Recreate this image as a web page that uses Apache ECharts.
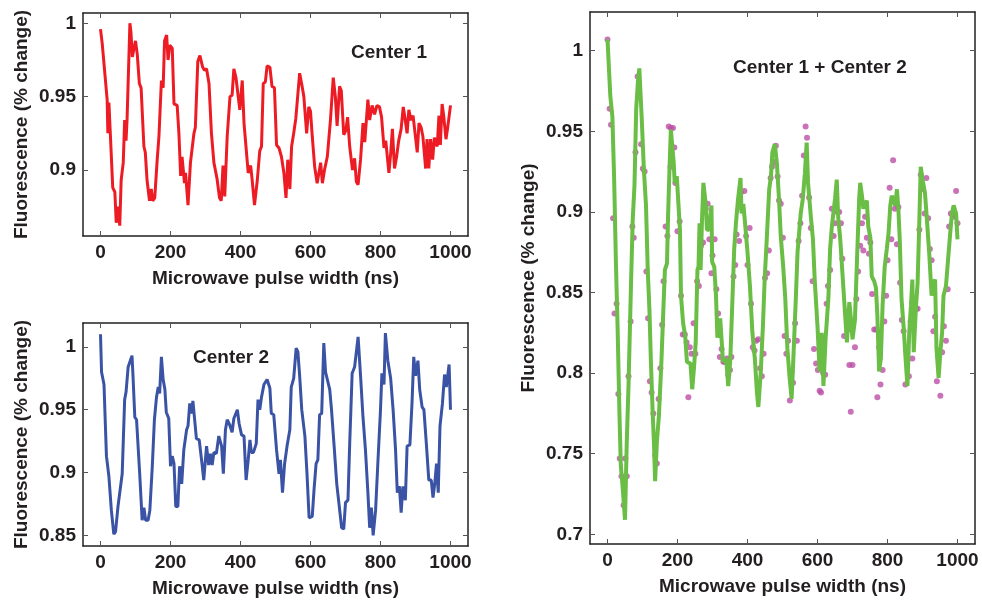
<!DOCTYPE html>
<html>
<head>
    <meta charset="utf-8">
    <script src="https://cdn.jsdelivr.net/npm/echarts@6/dist/echarts.min.js"></script>
    <style>
        body { margin: 0; background: #fff; }
    </style>
</head>
<body>
    <div id="main" style="width: 982px;height:601px;"></div>
    <script>
        // Center 1 (red)
        var c1Time = [0, 5, 9, 19, 21, 24, 28, 35, 41, 45, 50, 55, 59, 65, 69, 73, 76, 84, 87, 91, 95, 100, 105, 111, 116, 124, 128, 133, 140, 145, 149, 155, 162, 167, 171, 174, 179, 183, 189, 193, 198, 205, 210, 219, 224, 229, 233, 240, 243, 250, 257, 267, 271, 278, 284, 292, 297, 303, 310, 317, 324, 333, 340, 345, 350, 355, 362, 370, 376, 381, 387, 390, 398, 405, 410, 416, 422, 429, 433, 440, 448, 455, 460, 465, 471, 476, 484, 490, 497, 503, 510, 517, 524, 530, 535, 541, 546, 552, 558, 562, 569, 576, 581, 589, 595, 600, 605, 612, 619, 629, 634, 640, 648, 657, 665, 671, 676, 683, 688, 695, 701, 706, 712, 720, 726, 731, 736, 743, 750, 755, 764, 769, 776, 783, 790, 797, 803, 810, 815, 824, 829, 834, 840, 846, 852, 859, 865, 869, 876, 881, 887, 893, 898, 905, 910, 916, 921, 929, 933, 938, 943, 949, 954, 962, 967, 971, 976, 981, 987, 992, 996, 1000];
        var c1Val = [0.996, 0.986, 0.985, 0.948, 0.925, 0.946, 0.925, 0.888, 0.885, 0.864, 0.875, 0.862, 0.893, 0.905, 0.934, 0.920, 0.935, 1.000, 0.994, 0.977, 0.982, 0.988, 0.979, 0.959, 0.956, 0.916, 0.912, 0.893, 0.879, 0.887, 0.879, 0.881, 0.907, 0.923, 0.924, 0.961, 0.956, 0.988, 0.992, 0.975, 0.985, 0.983, 0.945, 0.944, 0.925, 0.896, 0.909, 0.891, 0.898, 0.876, 0.905, 0.925, 0.929, 0.974, 0.978, 0.970, 0.968, 0.969, 0.959, 0.925, 0.905, 0.894, 0.881, 0.879, 0.903, 0.882, 0.923, 0.950, 0.951, 0.969, 0.963, 0.963, 0.941, 0.961, 0.932, 0.915, 0.898, 0.903, 0.894, 0.876, 0.893, 0.913, 0.916, 0.959, 0.960, 0.971, 0.970, 0.957, 0.956, 0.917, 0.915, 0.909, 0.898, 0.881, 0.907, 0.887, 0.916, 0.925, 0.935, 0.936, 0.966, 0.957, 0.950, 0.925, 0.943, 0.940, 0.923, 0.902, 0.891, 0.905, 0.891, 0.900, 0.909, 0.934, 0.963, 0.950, 0.930, 0.957, 0.954, 0.924, 0.927, 0.936, 0.916, 0.900, 0.908, 0.892, 0.890, 0.907, 0.932, 0.919, 0.948, 0.934, 0.944, 0.938, 0.944, 0.943, 0.936, 0.915, 0.920, 0.898, 0.911, 0.928, 0.901, 0.909, 0.920, 0.928, 0.943, 0.937, 0.925, 0.941, 0.934, 0.937, 0.937, 0.912, 0.932, 0.929, 0.923, 0.901, 0.921, 0.901, 0.921, 0.907, 0.922, 0.916, 0.937, 0.917, 0.945, 0.936, 0.921, 0.929, 0.928, 0.944];

        // Center 2 (blue)
        var c2Time = [0, 3, 10, 17, 24, 31, 38, 43, 50, 55, 62, 69, 73, 79, 84, 90, 93, 98, 103, 107, 112, 119, 124, 129, 136, 141, 148, 154, 160, 165, 169, 174, 179, 184, 188, 195, 200, 205, 210, 215, 221, 226, 232, 238, 246, 250, 255, 260, 264, 269, 274, 282, 290, 295, 303, 309, 314, 319, 324, 331, 338, 346, 351, 357, 362, 369, 376, 381, 386, 391, 396, 403, 410, 416, 422, 427, 431, 437, 445, 450, 455, 460, 467, 476, 484, 488, 495, 503, 510, 514, 520, 526, 533, 541, 545, 552, 559, 564, 569, 575, 584, 590, 596, 605, 610, 616, 621, 626, 632, 638, 643, 648, 655, 660, 667, 675, 681, 689, 695, 700, 707, 712, 719, 726, 731, 736, 743, 750, 757, 764, 769, 774, 779, 786, 792, 800, 804, 810, 814, 821, 829, 836, 843, 848, 854, 859, 864, 871, 876, 884, 890, 895, 900, 907, 912, 919, 924, 931, 938, 945, 950, 955, 960, 965, 970, 977, 983, 988, 996, 998, 1000];
        var c2Val = [1.010, 0.980, 0.970, 0.913, 0.897, 0.870, 0.851, 0.853, 0.873, 0.874, 0.899, 0.958, 0.964, 0.984, 0.984, 0.993, 0.976, 0.944, 0.942, 0.943, 0.899, 0.862, 0.872, 0.862, 0.862, 0.870, 0.905, 0.942, 0.960, 0.968, 0.963, 0.992, 0.974, 0.966, 0.948, 0.943, 0.905, 0.913, 0.907, 0.873, 0.873, 0.905, 0.891, 0.918, 0.934, 0.937, 0.955, 0.947, 0.957, 0.956, 0.927, 0.926, 0.907, 0.894, 0.921, 0.906, 0.915, 0.906, 0.916, 0.915, 0.929, 0.921, 0.899, 0.934, 0.942, 0.938, 0.932, 0.943, 0.944, 0.950, 0.939, 0.930, 0.929, 0.894, 0.910, 0.926, 0.916, 0.916, 0.923, 0.958, 0.950, 0.960, 0.970, 0.974, 0.967, 0.947, 0.946, 0.918, 0.899, 0.910, 0.884, 0.907, 0.921, 0.934, 0.968, 0.975, 0.999, 0.996, 0.977, 0.950, 0.929, 0.899, 0.864, 0.865, 0.886, 0.907, 0.910, 0.946, 0.947, 1.003, 0.980, 0.981, 0.966, 0.950, 0.923, 0.891, 0.876, 0.856, 0.855, 0.876, 0.878, 0.923, 0.979, 0.984, 0.984, 1.008, 0.977, 0.944, 0.918, 0.884, 0.856, 0.872, 0.850, 0.870, 0.905, 0.950, 0.979, 0.970, 1.011, 0.989, 0.975, 0.950, 0.918, 0.884, 0.889, 0.868, 0.889, 0.878, 0.921, 0.922, 0.955, 0.992, 0.977, 0.989, 0.966, 0.952, 0.950, 0.923, 0.894, 0.894, 0.880, 0.891, 0.907, 0.884, 0.937, 0.955, 0.978, 0.968, 0.986, 0.968, 0.950];

        // Center 1 + Center 2 (green line)
        var sumTime = [0, 8, 14, 19, 24, 29, 34, 38, 43, 50, 55, 60, 67, 72, 77, 82, 87, 91, 94, 98, 104, 110, 115, 120, 124, 129, 133, 136, 141, 147, 150, 154, 159, 164, 170, 173, 177, 181, 186, 189, 192, 198, 203, 207, 210, 216, 222, 227, 231, 237, 242, 247, 252, 257, 260, 263, 266, 270, 274, 277, 281, 284, 290, 297, 299, 305, 310, 314, 317, 322, 330, 339, 345, 351, 357, 362, 367, 373, 380, 383, 388, 393, 400, 407, 414, 421, 427, 431, 438, 444, 449, 455, 462, 467, 471, 478, 484, 490, 495, 502, 508, 514, 520, 526, 531, 538, 543, 549, 552, 558, 564, 569, 573, 581, 587, 592, 600, 606, 612, 617, 623, 631, 636, 641, 645, 650, 655, 659, 665, 670, 676, 684, 691, 695, 700, 707, 713, 719, 722, 727, 731, 736, 741, 745, 751, 755, 762, 767, 771, 776, 781, 786, 792, 798, 803, 808, 812, 817, 822, 827, 831, 835, 840, 846, 851, 857, 862, 867, 871, 875, 881, 886, 890, 895, 900, 907, 912, 919, 926, 931, 936, 940, 946, 951, 956, 960, 967, 974, 980, 984, 989, 996, 1000];
        var sumVal = [1.007, 0.972, 0.959, 0.920, 0.869, 0.827, 0.776, 0.743, 0.730, 0.709, 0.757, 0.792, 0.854, 0.895, 0.916, 0.964, 0.981, 0.989, 0.975, 0.957, 0.926, 0.904, 0.864, 0.838, 0.807, 0.776, 0.755, 0.733, 0.757, 0.774, 0.775, 0.807, 0.836, 0.864, 0.868, 0.897, 0.926, 0.951, 0.952, 0.931, 0.918, 0.922, 0.922, 0.889, 0.848, 0.831, 0.823, 0.807, 0.806, 0.806, 0.790, 0.803, 0.819, 0.864, 0.866, 0.893, 0.864, 0.895, 0.918, 0.917, 0.904, 0.889, 0.889, 0.904, 0.869, 0.866, 0.848, 0.822, 0.821, 0.834, 0.807, 0.809, 0.792, 0.809, 0.846, 0.877, 0.893, 0.908, 0.921, 0.899, 0.905, 0.893, 0.875, 0.854, 0.825, 0.809, 0.788, 0.779, 0.801, 0.829, 0.858, 0.883, 0.914, 0.922, 0.937, 0.942, 0.930, 0.908, 0.885, 0.866, 0.846, 0.815, 0.798, 0.784, 0.809, 0.846, 0.875, 0.891, 0.899, 0.908, 0.924, 0.943, 0.918, 0.897, 0.883, 0.858, 0.829, 0.801, 0.825, 0.792, 0.821, 0.846, 0.877, 0.891, 0.890, 0.908, 0.920, 0.897, 0.883, 0.866, 0.846, 0.819, 0.844, 0.835, 0.821, 0.833, 0.871, 0.908, 0.918, 0.910, 0.902, 0.905, 0.907, 0.891, 0.884, 0.860, 0.857, 0.853, 0.836, 0.801, 0.809, 0.842, 0.866, 0.877, 0.887, 0.904, 0.910, 0.907, 0.904, 0.914, 0.902, 0.883, 0.846, 0.829, 0.811, 0.792, 0.825, 0.842, 0.858, 0.813, 0.840, 0.856, 0.887, 0.928, 0.920, 0.912, 0.897, 0.875, 0.848, 0.856, 0.858, 0.815, 0.797, 0.813, 0.825, 0.848, 0.854, 0.873, 0.889, 0.899, 0.904, 0.899, 0.883];

        // measured points (magenta dots)
        var dotTime = [0, 6, 10, 16, 20, 26, 31, 35, 40, 46, 51, 55, 60, 66, 71, 75, 80, 86, 90, 96, 101, 106, 111, 116, 121, 126, 131, 136, 141, 146, 151, 156, 160, 166, 171, 175, 180, 181, 187, 191, 194, 200, 206, 210, 215, 221, 226, 231, 235, 240, 246, 251, 256, 261, 267, 273, 281, 286, 291, 297, 300, 306, 311, 316, 321, 326, 331, 335, 341, 345, 350, 354, 360, 365, 369, 376, 381, 385, 391, 396, 400, 406, 410, 415, 420, 425, 431, 436, 441, 446, 450, 456, 461, 466, 470, 476, 481, 486, 490, 495, 501, 506, 511, 516, 521, 526, 530, 536, 541, 546, 551, 556, 561, 566, 570, 576, 581, 586, 590, 596, 601, 606, 610, 616, 622, 626, 630, 636, 641, 646, 650, 657, 662, 667, 671, 676, 681, 686, 691, 695, 700, 707, 711, 716, 722, 727, 731, 736, 741, 747, 751, 756, 762, 767, 771, 776, 780, 786, 791, 796, 800, 806, 811, 816, 821, 827, 831, 836, 841, 846, 851, 856, 861, 866, 871, 876, 881, 886, 891, 895, 900, 906, 911, 916, 921, 926, 931, 936, 941, 946, 951, 956, 961, 967, 972, 976, 981, 986, 991, 996, 1000];
        var dotVal = [1.007, 0.964, 0.954, 0.896, 0.837, 0.843, 0.787, 0.747, 0.736, 0.718, 0.747, 0.736, 0.798, 0.832, 0.891, 0.884, 0.937, 0.984, 0.973, 0.942, 0.927, 0.925, 0.863, 0.834, 0.795, 0.788, 0.775, 0.749, 0.744, 0.784, 0.803, 0.830, 0.857, 0.891, 0.885, 0.953, 0.928, 0.952, 0.952, 0.940, 0.918, 0.888, 0.894, 0.848, 0.824, 0.824, 0.819, 0.785, 0.816, 0.812, 0.831, 0.812, 0.857, 0.854, 0.879, 0.881, 0.902, 0.905, 0.883, 0.862, 0.873, 0.883, 0.852, 0.837, 0.810, 0.815, 0.807, 0.807, 0.809, 0.799, 0.802, 0.810, 0.860, 0.867, 0.886, 0.882, 0.912, 0.902, 0.913, 0.885, 0.867, 0.890, 0.843, 0.816, 0.814, 0.820, 0.821, 0.803, 0.798, 0.812, 0.859, 0.862, 0.876, 0.921, 0.928, 0.931, 0.941, 0.922, 0.907, 0.905, 0.884, 0.823, 0.812, 0.820, 0.783, 0.801, 0.794, 0.831, 0.820, 0.882, 0.893, 0.910, 0.935, 0.953, 0.946, 0.909, 0.890, 0.857, 0.815, 0.806, 0.802, 0.789, 0.788, 0.800, 0.799, 0.843, 0.854, 0.864, 0.902, 0.885, 0.893, 0.900, 0.900, 0.893, 0.871, 0.823, 0.838, 0.827, 0.805, 0.776, 0.805, 0.816, 0.846, 0.863, 0.879, 0.893, 0.876, 0.897, 0.884, 0.874, 0.881, 0.849, 0.827, 0.827, 0.785, 0.816, 0.793, 0.802, 0.832, 0.848, 0.870, 0.915, 0.883, 0.932, 0.902, 0.880, 0.903, 0.856, 0.833, 0.826, 0.793, 0.813, 0.798, 0.832, 0.809, 0.840, 0.840, 0.840, 0.889, 0.923, 0.914, 0.899, 0.921, 0.896, 0.877, 0.870, 0.826, 0.835, 0.795, 0.814, 0.786, 0.813, 0.829, 0.820, 0.852, 0.891, 0.899, 0.898, 0.897, 0.913, 0.893];

        var xTicks = [0, 200, 400, 600, 800, 1000];
        var yTicks1 = [0.9, 0.95, 1];
        var yTicks2 = [0.85, 0.9, 0.95, 1];
        var yTicks3 = [0.7, 0.75, 0.8, 0.85, 0.9, 0.95, 1];

        function pairs(xs, ys) {
            return xs.map(function (x, i) { return [x, ys[i]]; });
        }

        var font = 'Liberation Sans, Arial, sans-serif';
        var ink = '#231f20';
        var labelStyle = { fontFamily: font, fontSize: 19, fontWeight: 'bold', color: ink };

        // one side of the frame, with or without labels
        function xAx(grid, pos, labelled) {
            return {
                type: 'value', gridIndex: grid, position: pos,
                min: -50, max: 1050,
                name: labelled ? 'Microwave pulse width (ns)' : '',
                nameLocation: 'middle', nameGap: 33,
                nameTextStyle: labelStyle,
                splitLine: { show: false },
                axisLine: { show: true, onZero: false, lineStyle: { color: ink, width: 1.5 } },
                axisTick: { show: true, inside: true, length: 5, customValues: xTicks, lineStyle: { color: '#555', width: 1 } },
                axisLabel: {
                    show: labelled, margin: 7, customValues: xTicks,
                    formatter: function (v) { return String(v); },
                    fontFamily: font, fontSize: 19, fontWeight: 'bold', color: ink
                }
            };
        }
        function yAx(grid, pos, labelled, min, max, ticks) {
            return {
                type: 'value', gridIndex: grid, position: pos,
                min: min, max: max,
                name: labelled ? 'Fluorescence (% change)' : '',
                nameLocation: 'middle', nameGap: 52,
                nameTextStyle: labelStyle,
                splitLine: { show: false },
                axisLine: { show: true, onZero: false, lineStyle: { color: ink, width: 1.5 } },
                axisTick: { show: true, inside: true, length: 5, customValues: ticks, lineStyle: { color: '#555', width: 1 } },
                axisLabel: {
                    show: labelled, margin: 7, customValues: ticks,
                    formatter: function (v) { return String(+v.toFixed(2)); },
                    fontFamily: font, fontSize: 19, fontWeight: 'bold', color: ink
                }
            };
        }

        var myChart = echarts.init(document.getElementById('main'));
        var option = {
            animation: false,
            backgroundColor: '#fff',
            title: [
                { text: 'Center 1', left: 351, top: 43, padding: 0, textStyle: labelStyle },
                { text: 'Center 2', left: 193, top: 348, padding: 0, textStyle: labelStyle },
                { text: 'Center 1 + Center 2', left: 733, top: 58, padding: 0, textStyle: labelStyle }
            ],
            grid: [
                { left: 83, top: 13, width: 385, height: 223 },
                { left: 83, top: 323, width: 385, height: 223 },
                { left: 590, top: 12, width: 385, height: 534 }
            ],
            xAxis: [
                xAx(0, 'bottom', true), xAx(0, 'top', false),
                xAx(1, 'bottom', true), xAx(1, 'top', false),
                xAx(2, 'bottom', true), xAx(2, 'top', false)
            ],
            yAxis: [
                yAx(0, 'left', true, 0.855, 1.007, yTicks1), yAx(0, 'right', false, 0.855, 1.007, yTicks1),
                yAx(1, 'left', true, 0.8415, 1.019, yTicks2), yAx(1, 'right', false, 0.8415, 1.019, yTicks2),
                yAx(2, 'left', true, 0.694, 1.024, yTicks3), yAx(2, 'right', false, 0.694, 1.024, yTicks3)
            ],
            series: [
                {
                    name: 'Center 1', type: 'line', xAxisIndex: 0, yAxisIndex: 0,
                    data: pairs(c1Time, c1Val), showSymbol: false,
                    lineStyle: { color: '#ed1c24', width: 3 }
                },
                {
                    name: 'Center 2', type: 'line', xAxisIndex: 2, yAxisIndex: 2,
                    data: pairs(c2Time, c2Val), showSymbol: false,
                    lineStyle: { color: '#3a53a4', width: 3 }
                },
                {
                    name: 'Center 1 + Center 2', type: 'line', xAxisIndex: 4, yAxisIndex: 4,
                    data: pairs(sumTime, sumVal), showSymbol: false,
                    lineStyle: { color: '#6abd45', width: 4 }
                },
                {
                    name: 'data', type: 'scatter', xAxisIndex: 4, yAxisIndex: 4,
                    data: pairs(dotTime, dotVal), symbolSize: 6,
                    itemStyle: { color: '#bc4fa6' }
                }
            ]
        };
        myChart.setOption(option);
    </script>
</body>
</html>
